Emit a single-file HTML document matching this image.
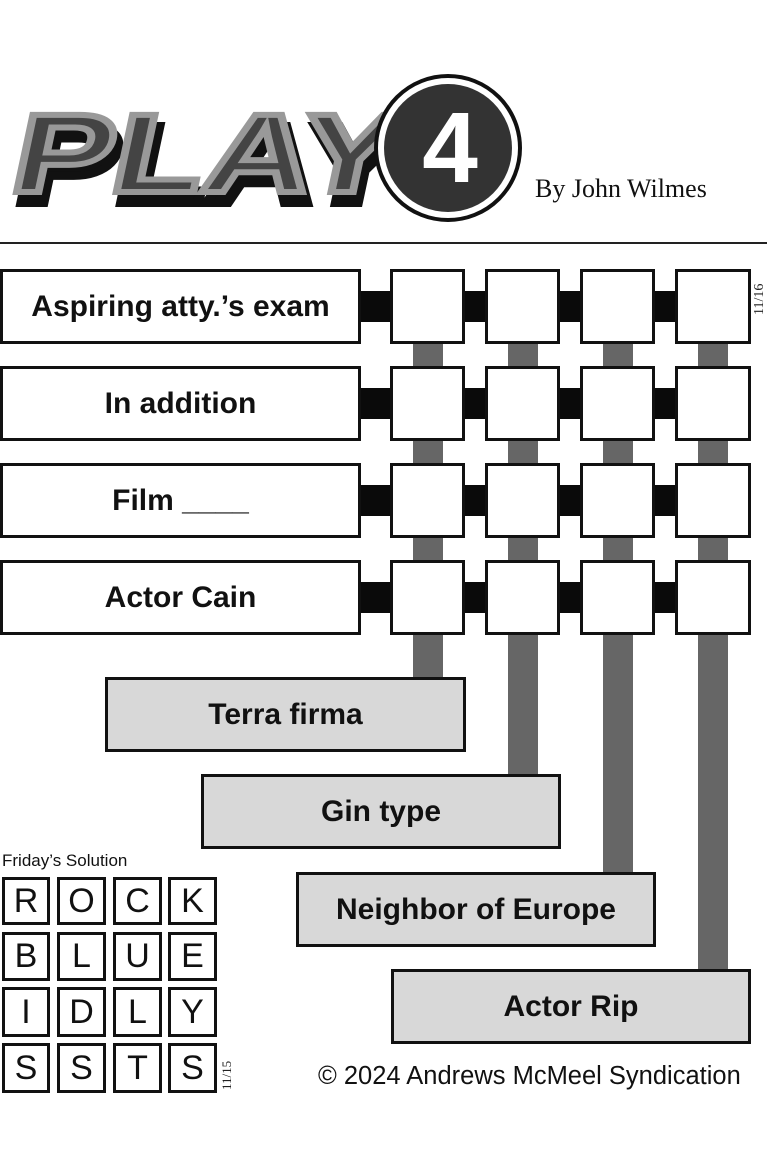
<!DOCTYPE html>
<html><head><meta charset="utf-8"><style>
body{margin:0;width:767px;height:1173px;background:#fff;position:relative;overflow:hidden;font-family:"Liberation Sans",sans-serif}
.a{position:absolute;box-sizing:border-box}
.clue{border:3px solid #111;background:#fff;display:flex;align-items:center;justify-content:center;font-weight:bold;font-size:30px;color:#111}
.g{background:#d8d8d8}
.cell{border:3px solid #111;background:#fff}
.h{background:#0a0a0a}
.v{background:#666}
.s{border:3px solid #111;display:flex;align-items:center;justify-content:center;font-size:34px;color:#111}
</style></head><body>
<svg class="a" style="left:0;top:60px" width="767" height="190">
<g transform="skewX(-12)">
<text x="42" y="143" font-family="Liberation Sans" font-weight="bold" font-size="112" fill="#111" stroke="#111" stroke-width="8" textLength="385" lengthAdjust="spacingAndGlyphs">PLAY</text>
<text x="35" y="132" font-family="Liberation Sans" font-weight="bold" font-size="112" fill="#444" stroke="#999" stroke-width="6" textLength="385" lengthAdjust="spacingAndGlyphs">PLAY</text>
</g>
<circle cx="448" cy="88" r="72" fill="#fff" stroke="#111" stroke-width="4"/>
<circle cx="448" cy="88" r="64" fill="#333"/>
<text x="450" y="122" text-anchor="middle" font-family="Liberation Sans" font-weight="bold" font-size="100" fill="#fff">4</text>
<text x="535" y="137" font-family="Liberation Serif" font-size="26" fill="#111">By John Wilmes</text>
</svg>
<div class="a" style="left:0;top:242px;width:767px;height:2px;background:#222"></div>

<div class="a v" style="left:413px;top:300px;width:30px;height:380px"></div>
<div class="a v" style="left:508px;top:300px;width:30px;height:477px"></div>
<div class="a v" style="left:603px;top:300px;width:30px;height:575px"></div>
<div class="a v" style="left:698px;top:300px;width:30px;height:672px"></div>

<div class="a h" style="left:355px;top:291px;width:380px;height:31px"></div>
<div class="a h" style="left:355px;top:388px;width:380px;height:31px"></div>
<div class="a h" style="left:355px;top:485px;width:380px;height:31px"></div>
<div class="a h" style="left:355px;top:582px;width:380px;height:31px"></div>

<div class="a clue" style="left:0;top:269px;width:361px;height:75px">Aspiring atty.’s exam</div>
<div class="a clue" style="left:0;top:366px;width:361px;height:75px">In addition</div>
<div class="a clue" style="left:0;top:463px;width:361px;height:75px">Film ____</div>
<div class="a clue" style="left:0;top:560px;width:361px;height:75px">Actor Cain</div>

<div class="a cell" style="left:390px;top:269px;width:75px;height:75px"></div>
<div class="a cell" style="left:485px;top:269px;width:75px;height:75px"></div>
<div class="a cell" style="left:580px;top:269px;width:75px;height:75px"></div>
<div class="a cell" style="left:675px;top:269px;width:76px;height:75px"></div>
<div class="a cell" style="left:390px;top:366px;width:75px;height:75px"></div>
<div class="a cell" style="left:485px;top:366px;width:75px;height:75px"></div>
<div class="a cell" style="left:580px;top:366px;width:75px;height:75px"></div>
<div class="a cell" style="left:675px;top:366px;width:76px;height:75px"></div>
<div class="a cell" style="left:390px;top:463px;width:75px;height:75px"></div>
<div class="a cell" style="left:485px;top:463px;width:75px;height:75px"></div>
<div class="a cell" style="left:580px;top:463px;width:75px;height:75px"></div>
<div class="a cell" style="left:675px;top:463px;width:76px;height:75px"></div>
<div class="a cell" style="left:390px;top:560px;width:75px;height:75px"></div>
<div class="a cell" style="left:485px;top:560px;width:75px;height:75px"></div>
<div class="a cell" style="left:580px;top:560px;width:75px;height:75px"></div>
<div class="a cell" style="left:675px;top:560px;width:76px;height:75px"></div>

<div class="a" style="left:752px;top:275px;width:18px;height:40px;font-family:'Liberation Serif';font-size:14px;writing-mode:vertical-rl;transform:rotate(180deg);color:#222">11/16</div>

<div class="a clue g" style="left:105px;top:677px;width:361px;height:75px">Terra firma</div>
<div class="a clue g" style="left:201px;top:774px;width:360px;height:75px">Gin type</div>
<div class="a clue g" style="left:296px;top:872px;width:360px;height:75px">Neighbor of Europe</div>
<div class="a clue g" style="left:391px;top:969px;width:360px;height:75px">Actor Rip</div>

<div class="a" style="left:2px;top:851px;font-size:17px;color:#111">Friday’s Solution</div>
<div class="a s" style="left:2px;top:877px;width:48px;height:48px">R</div>
<div class="a s" style="left:57px;top:877px;width:49px;height:48px">O</div>
<div class="a s" style="left:113px;top:877px;width:49px;height:48px">C</div>
<div class="a s" style="left:168px;top:877px;width:49px;height:48px">K</div>
<div class="a s" style="left:2px;top:932px;width:48px;height:49px">B</div>
<div class="a s" style="left:57px;top:932px;width:49px;height:49px">L</div>
<div class="a s" style="left:113px;top:932px;width:49px;height:49px">U</div>
<div class="a s" style="left:168px;top:932px;width:49px;height:49px">E</div>
<div class="a s" style="left:2px;top:987px;width:48px;height:50px">I</div>
<div class="a s" style="left:57px;top:987px;width:49px;height:50px">D</div>
<div class="a s" style="left:113px;top:987px;width:49px;height:50px">L</div>
<div class="a s" style="left:168px;top:987px;width:49px;height:50px">Y</div>
<div class="a s" style="left:2px;top:1043px;width:48px;height:50px">S</div>
<div class="a s" style="left:57px;top:1043px;width:49px;height:50px">S</div>
<div class="a s" style="left:113px;top:1043px;width:49px;height:50px">T</div>
<div class="a s" style="left:168px;top:1043px;width:49px;height:50px">S</div>
<div class="a" style="left:219px;top:1050px;width:16px;height:40px;font-family:'Liberation Serif';font-size:13px;writing-mode:vertical-rl;transform:rotate(180deg);color:#222">11/15</div>

<div class="a" style="left:318px;top:1062px;font-size:25.5px;color:#111">© 2024 Andrews McMeel Syndication</div>
</body></html>
